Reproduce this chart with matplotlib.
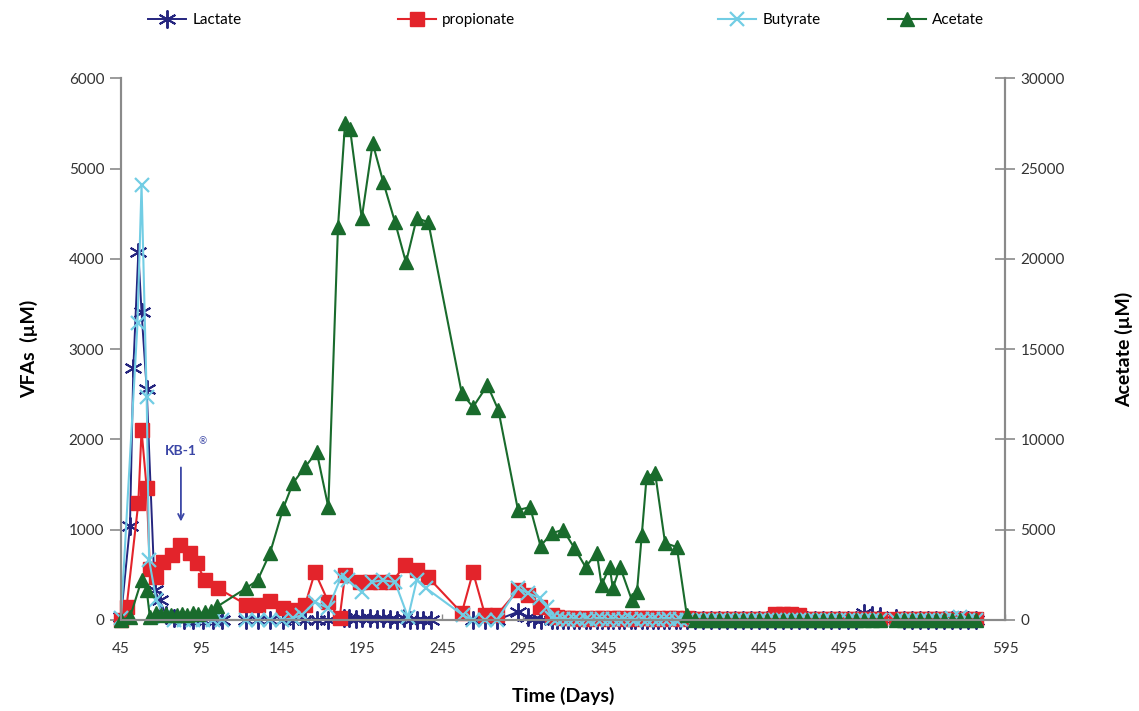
import numpy as np
import matplotlib
matplotlib.use("Agg")
import matplotlib.pyplot as plt

plt.rcParams['font.family'] = ['Lato', 'DejaVu Sans']

# ---- data ----
lactate_days = [45, 50.6, 52.7, 55.8, 57.8, 61, 66, 69, 73, 78, 84, 90, 96, 102,
                108, 123, 130, 138, 146, 152, 159.5, 167, 174, 184, 187, 191, 195,
                200, 204, 208, 212.5, 217, 221, 225, 229, 233, 238, 264, 271.5,
                278.8, 292, 298, 302, 306, 313]
lactate_vals = [30, 1040, 2790, 4075, 3410, 2560, 330, 220, 60, 20, 0, 0, 0, 0,
                0, 0, 0, 0, 0, 0, 0, 0, 0, 20, 20, 10, 20,
                20, 10, 20, 10, 0, 20, 0, 0, 0, 0, 0, 0,
                0, 90, 30, 10, 0, 0]

propionate_days = [45, 48.5, 55.8, 57.8, 61, 63, 67, 71, 76.5, 82, 88, 92, 97.3,
                   105.4, 123, 130, 137.7, 146, 152, 159.5, 165.7, 174, 181, 184.4,
                   193.7, 200, 206, 213.6, 221.7, 229, 236, 257, 264, 271.5, 278.8,
                   292, 298, 305.7, 313]
propionate_vals = [0, 145, 1295, 2100, 1460, 560, 480, 640, 720, 830, 740, 630, 440,
                   350, 170, 170, 210, 130, 110, 165, 530, 200, 20, 500,
                   420, 420, 420, 420, 610, 550, 475, 78, 530, 55, 55,
                   330, 275, 145, 55]

butyrate_days = [45, 55.3, 57.8, 61, 62.5, 67, 72, 78, 84, 90, 96, 102, 108, 123,
                 130, 138, 145, 152, 157.5, 165.7, 174, 182, 186, 194.8, 201, 208,
                 215.5, 223.6, 229, 235, 258, 264, 271.5, 278.8, 292, 298, 305.7,
                 310, 313]
butyrate_vals = [20, 3290, 4820, 2470, 665, 220, 30, 0, 0, 0, 0, 0, 0, 0,
                 0, 0, 0, 20, 55, 200, 130, 480, 440, 310, 420, 440,
                 420, 30, 440, 350, 50, 0, 0, 0, 350, 300, 240,
                 145, 20]

acetate_days = [45, 50.6, 57.8, 61, 63, 67, 70, 73, 76, 80, 83, 86, 90, 93, 97,
                101, 105, 123, 130, 137.7, 146, 152, 159.5, 166.8, 174, 180,
                184.4, 187.5, 194.8, 201.6, 208.2, 215.5, 222.3, 229, 236.2, 257,
                264, 273, 279.8, 292, 299.5, 306, 313, 320, 327, 334, 341, 344,
                349, 351, 355.5, 362.8, 366, 369, 372, 377.3, 383.5, 390.8, 397]
acetate_vals = [0, 150, 2200, 1660, 150, 400, 300, 350, 300, 300, 350, 300, 400,
                350, 450, 500, 750, 1770, 2200, 3700, 6200, 7580, 8470, 9300, 6250,
                21750, 27500, 27200, 22250, 26400, 24240, 22030, 19800, 22250,
                22030, 12560, 11790, 13000, 11620, 6090, 6250, 4100, 4800, 5000,
                4000, 2935, 3710, 1940, 2935, 1770, 2935, 1107, 1550, 4700, 7915,
                8140, 4260, 4040, 277]

# dense sampling near zero after day 313
tail_days = [316, 320, 323, 327, 330, 334, 337, 341, 344, 348, 351, 355, 358,
             362, 365, 369, 372, 376, 379, 383, 386, 390, 393, 397]
tail_propionate = [30, 20, 20, 20, 10, 20, 10, 20, 20, 10, 20, 20, 10,
                   20, 10, 20, 20, 10, 20, 10, 20, 20, 10, 20]
tail_butyrate = [10, 10, 0, 10, 0, 10, 0, 10, 10, 0, 10, 0, 10,
                 10, 0, 10, 0, 10, 0, 10, 10, 0, 10, 0]

# late phase, two sampling runs with a gap between them
late_days_a = [402, 407, 412, 417, 422, 427, 432, 437, 442, 447, 452, 457,
               462, 467, 472, 477, 482, 487, 492, 497, 502, 507, 512, 517]
late_days_b = [527, 532, 537, 542, 547, 552, 557, 562, 567, 572, 577]
late_lactate_a = [0, 0, 0, 0, 0, 0, 0, 0, 0, 0, 0, 0,
                  0, 0, 0, 0, 0, 0, 0, 0, 0, 75, 60, 40]
late_lactate_b = [20, 0, 0, 0, 0, 0, 0, 0, 0, 0, 0]
late_propionate_a = [10, 10, 10, 10, 10, 10, 10, 10, 10, 10, 70, 70,
                     70, 55, 10, 10, 10, 10, 10, 10, 10, 10, 10, 10]
late_propionate_b = [10, 10, 10, 10, 10, 10, 10, 10, 10, 10, 10]
late_butyrate_a = [0, 0, 0, 0, 0, 0, 0, 0, 0, 0, 0, 0,
                   0, 0, 0, 0, 0, 0, 0, 0, 0, 0, 0, 0]
late_butyrate_b = [0, 0, 0, 0, 0, 0, 0, 20, 30, 0, 0]
late_acetate_a = [0, 0, 0, 0, 0, 0, 0, 0, 0, 0, 0, 0,
                  0, 0, 0, 0, 0, 0, 0, 0, 0, 0, 0, 0]
late_acetate_b = [0, 0, 0, 0, 0, 0, 0, 0, 0, 0, 0]

x_ticks = [45, 95, 145, 195, 245, 295, 345, 395, 445, 495, 545, 595]

# ---- styles ----
c_lac = "#25257f"
c_pro = "#e3242b"
c_but = "#72cde4"
c_ace = "#196b2c"
grey = "#8a8a8a"

fig = plt.figure(figsize=(11.39, 7.11), dpi=100)
ax = fig.add_axes([0.1062, 0.128, 0.7762, 0.762])
ax2 = ax.twinx()

lac_kw = dict(color=c_lac, marker=(6, 2, 0), markersize=13, markeredgewidth=1.4,
              lw=1.4, clip_on=False)
pro_kw = dict(color=c_pro, marker="s", markersize=10, lw=1.5, clip_on=False)
but_kw = dict(color=c_but, marker="x", markersize=10, markeredgewidth=1.6,
              lw=1.5, clip_on=False)
ace_kw = dict(color=c_ace, marker="^", markersize=10, lw=1.5, clip_on=False)

ax.plot(lactate_days + tail_days + late_days_a + late_days_b,
        lactate_vals + [0] * len(tail_days) + late_lactate_a + late_lactate_b,
        label="Lactate", **lac_kw)
ax.plot(propionate_days + tail_days + late_days_a, propionate_vals + tail_propionate
        + late_propionate_a, label="propionate", **pro_kw)
ax.plot(late_days_b, late_propionate_b, **pro_kw)
ax.plot(butyrate_days + tail_days + late_days_a, butyrate_vals + tail_butyrate
        + late_butyrate_a, label="Butyrate", **but_kw)
ax.plot(late_days_b, late_butyrate_b, **but_kw)

ax2.plot(acetate_days + late_days_a, acetate_vals + late_acetate_a,
         label="Acetate", **ace_kw)
ax2.plot(late_days_b, late_acetate_b, **ace_kw)

ax.set_xlim(45, 595)
ax.set_ylim(0, 6000)
ax2.set_ylim(0, 30000)
ax.set_xticks(x_ticks)
ax.set_yticks(range(0, 6001, 1000))
ax2.set_yticks(range(0, 30001, 5000))

for a in (ax, ax2):
    a.spines["top"].set_visible(False)
    for s in ("left", "right", "bottom"):
        a.spines[s].set_color(grey)
        a.spines[s].set_linewidth(1.5)
ax.tick_params(axis="y", direction="out", length=8, width=1.2, color=grey,
               labelsize=11, labelcolor="#333333", pad=4)
ax.tick_params(axis="x", direction="in", length=4, width=1, color=grey,
               labelsize=11, labelcolor="#333333", pad=16)
ax2.tick_params(axis="y", direction="inout", length=14, width=1.2, color=grey,
                labelsize=11, labelcolor="#333333", pad=4)

ax.set_xlabel("Time (Days)", fontsize=14, fontweight="bold", labelpad=22)
ax.set_ylabel("VFAs  (µM)", fontsize=14, fontweight="bold", labelpad=22)
ax2.set_ylabel("Acetate (µM)", fontsize=14, fontweight="bold", labelpad=36)

# KB-1 addition
ax.annotate("", xy=(82.3, 1060), xytext=(82.3, 1720),
            arrowprops=dict(arrowstyle="->", color="#3b46a6", lw=1.3))
ax.text(82.3, 1800, "KB-1", color="#3b46a6", fontsize=10, fontweight="bold",
        ha="center", va="bottom")
ax.text(93, 1920, "®", color="#3b46a6", fontsize=7, ha="left", va="bottom")

# legend entries placed one by one across the top
h1, l1 = ax.get_legend_handles_labels()
h2, l2 = ax2.get_legend_handles_labels()
legend_x = [148, 398, 718, 888]
for h, l, x in zip(h1 + h2, l1 + l2, legend_x):
    fig.legend([h], [l], loc="center left", bbox_to_anchor=(x / 1139, 1 - 20 / 711),
               frameon=False, fontsize=11, handlelength=2.5, handletextpad=0.4,
               borderpad=0, borderaxespad=0)

fig.savefig("out.png", dpi=100)
